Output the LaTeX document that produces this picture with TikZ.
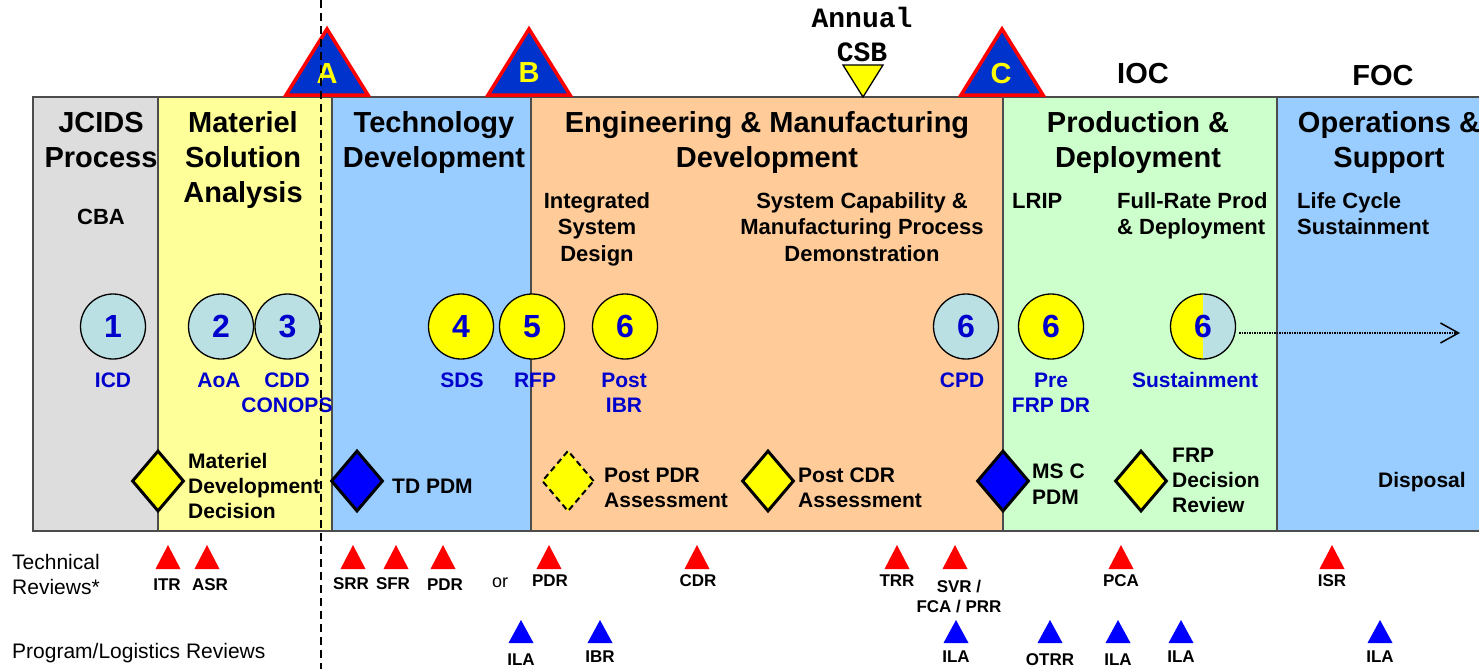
\documentclass[tikz,border=0pt]{standalone}
\usepackage{fontspec}
\setmainfont{Liberation Sans}
\newfontfamily\csbfont{Liberation Mono}
\usetikzlibrary{shapes.geometric,arrows.meta}

\definecolor{jcidsgray}{HTML}{DDDDDD}
\definecolor{msayellow}{HTML}{FFFF99}
\definecolor{phaseblue}{HTML}{99CCFF}
\definecolor{emdorange}{HTML}{FFCC99}
\definecolor{pdgreen}{HTML}{CCFFCC}
\definecolor{docblue}{HTML}{BBE0E3}
\definecolor{docyellow}{HTML}{FFFF00}
\definecolor{labelblue}{HTML}{0000CC}
\definecolor{msblue}{HTML}{0033CC}
\definecolor{pdmblue}{HTML}{0000FF}
\definecolor{revred}{HTML}{FF0000}
\definecolor{revblue}{HTML}{0000FF}

\newcommand{\fsz}[2]{\fontsize{#1}{#2}\selectfont}

% multi-line nodes are placed by the baseline of their last line
\begin{document}
\begin{tikzpicture}[x=1pt,y=-1pt,
  panel/.style={draw=black!70, line width=1.2pt},
  head/.style={font=\bfseries\fsz{29}{35}, align=center, anchor=base, inner sep=0pt},
  subhead/.style={font=\bfseries\fsz{22}{26.5}, align=center, anchor=base, inner sep=0pt},
  subleft/.style={subhead, align=left, anchor=base west},
  milestone/.style={fill=msblue, draw=revred, line width=3.5pt, line join=miter},
  msletter/.style={font=\bfseries\fsz{29}{35}, text=docyellow, anchor=base, inner sep=0pt},
  doc/.style={circle, draw=black, line width=1.3pt, minimum size=65pt, inner sep=0pt,
              font=\bfseries\fsz{32}{38}, text=labelblue},
  doclabel/.style={font=\bfseries\fsz{21}{25}, text=labelblue, align=center, anchor=base, inner sep=0pt},
  decision/.style={diamond, draw=black, line width=3pt, minimum width=52pt, minimum height=61pt, inner sep=0pt},
  dectext/.style={font=\bfseries\fsz{21}{25}, align=left, anchor=base west, inner sep=0pt},
  revlabel/.style={font=\bfseries\fsz{17}{20}, align=center, anchor=base, inner sep=0pt},
  rowlabel/.style={font=\fsz{21}{25}, align=left, anchor=base west, inner sep=0pt},
]
\path[use as bounding box] (0,0) rectangle (1479,669);
\clip (0,0) rectangle (1479,669);

% acquisition phases
\draw[panel, fill=jcidsgray] (33,97) rectangle (158,531);
\draw[panel, fill=msayellow] (158,97) rectangle (332,531);
\draw[panel, fill=phaseblue] (332,97) rectangle (531,531);
\draw[panel, fill=emdorange] (531,97) rectangle (1003,531);
\draw[panel, fill=pdgreen] (1003,97) rectangle (1277,531);
\draw[panel, fill=phaseblue] (1277,97) rectangle (1500,531);

% milestones A, B, C
\draw[milestone] (286,95) -- (327,29) -- (368,95) -- cycle;
\node[msletter] (msA) at (327,83) {A};
\draw[milestone] (488,95) -- (529,29) -- (570,95) -- cycle;
\node[msletter] (msB) at (529,82) {B};
\draw[milestone] (961,95) -- (1002,29) -- (1043,95) -- cycle;
\node[msletter] (msC) at (1001,83) {C};

% annual CSB marker
\draw[fill=docyellow, draw=black, line width=1.3pt] (843,65) -- (883,65) -- (863,97) -- cycle;
\node[font=\csbfont\bfseries\fsz{28}{34}, align=center, anchor=base, inner sep=0pt] (csb) at (862,62) {Annual\\CSB};

\node[head] (ioc) at (1143,83) {IOC};
\node[head] (foc) at (1383,85) {FOC};

% phase titles
\node[head] (jcids) at (101,167) {JCIDS\\Process};
\node[head] (msa) at (243,202) {Materiel\\Solution\\Analysis};
\node[head] (td) at (434,167) {Technology\\Development};
\node[head] (emd) at (767,167) {Engineering \& Manufacturing\\Development};
\node[head] (pd) at (1138,167) {Production \&\\Deployment};
\node[head] (os) at (1389,167) {Operations \&\\Support};

% sub-phases
\node[subhead] (cba) at (101,224) {CBA};
\node[subhead] (isd) at (597,261) {Integrated\\System\\Design};
\node[subhead] (scmpd) at (862,261) {System Capability \&\\Manufacturing Process\\Demonstration};
\node[subleft] (lrip) at (1012,208) {LRIP};
\node[subleft] (frpd) at (1117,234.5) {Full-Rate Prod\\\& Deployment};
\node[subleft] (lcs) at (1297,234.5) {Life Cycle\\Sustainment};

% documents
\node[doc, fill=docblue] (d1) at (113,326.5) {1};
\node[doc, fill=docblue] (d2) at (221,326.5) {2};
\node[doc, fill=docblue] (d3) at (287.5,326.5) {3};
\node[doc, fill=docyellow] (d4) at (461,326.5) {4};
\node[doc, fill=docyellow] (d5) at (532,326.5) {5};
\node[doc, fill=docyellow] (d6a) at (625,326.5) {6};
\node[doc, fill=docblue] (d6b) at (966,326.5) {6};
\node[doc, fill=docyellow] (d6c) at (1051,326.5) {6};
\fill[docyellow] (1203,326.5) ++(90:32.5) arc[start angle=90, end angle=270, radius=32.5] -- cycle;
\fill[docblue] (1203,326.5) ++(270:32.5) arc[start angle=270, end angle=450, radius=32.5] -- cycle;
\node[doc] (d6d) at (1203,326.5) {6};

\coordinate (lifeend) at (1460,333);
\draw[densely dotted, line width=1.5pt, shorten <=3pt,
      -{Straight Barb[length=18pt,width=20pt,line width=1.5pt]}] (d6d.east |- lifeend) -- (lifeend);

\node[doclabel] (icd) at (113,387) {ICD};
\node[doclabel] (aoa) at (219,387) {AoA};
\node[doclabel] (cdd) at (287,412) {CDD\\CONOPS};
\node[doclabel] (sds) at (462,387) {SDS};
\node[doclabel] (rfp) at (535,387) {RFP};
\node[doclabel] (postibr) at (624,412) {Post\\IBR};
\node[doclabel] (cpd) at (962,387) {CPD};
\node[doclabel] (prefrp) at (1051,412) {Pre\\FRP DR};
\node[doclabel] (sust) at (1195,387) {Sustainment};

% decision points
\node[decision, fill=docyellow] (mdd) at (158,481) {};
\node[decision, fill=pdmblue] (tdpdm) at (357,481) {};
\node[decision, fill=docyellow, line width=2pt, dash pattern=on 6pt off 4pt] (ppdr) at (568,481) {};
\node[decision, fill=docyellow] (pcdr) at (768,481) {};
\node[decision, fill=pdmblue] (mscpdm) at (1003,481) {};
\node[decision, fill=docyellow] (frpdr) at (1141,481) {};

\node[dectext] (mddtext) at (188,518) {Materiel\\Development\\Decision};
\node[dectext] (tdpdmtext) at (392,493) {TD PDM};
\node[dectext] (ppdrtext) at (604,507) {Post PDR\\Assessment};
\node[dectext] (pcdrtext) at (798,507) {Post CDR\\Assessment};
\node[dectext, font=\bfseries\fsz{21}{26}] (msctext) at (1032,504) {MS C\\PDM};
\node[dectext] (frptext) at (1172,512) {FRP\\Decision\\Review};
\node[dectext] (disposal) at (1378,487) {Disposal};

% review rows
\node[rowlabel] (techrev) at (12,594) {Technical\\Reviews*};
\node[rowlabel] (proglog) at (12,658) {Program/Logistics Reviews};

\foreach \tx/\lx/\by/\nm/\txt in {168/167/590/itr/ITR, 207/210/590/asr/ASR,
    353/351/589/srr/SRR, 396/393/589/sfr/SFR, 443/445/590/pdra/PDR,
    549/550/586/pdrb/PDR, 697/698/586/cdr/CDR, 897/897/586/trr/TRR,
    1121/1121/586/pca/PCA, 1332/1332/586/isr/ISR} {
  \fill[revred] (\tx-12.5,569) -- (\tx,545) -- (\tx+12.5,569) -- cycle;
  \node[revlabel] (\nm) at (\lx,\by) {\txt};
}
\fill[revred] (955-12.5,569) -- (955,545) -- (955+12.5,569) -- cycle;
\node[revlabel] (svr) at (959,612) {SVR /\\FCA / PRR};
\node[font=\fsz{18}{20}, anchor=base, inner sep=0pt] (orlabel) at (500,587) {or};

\foreach \tx/\by/\nm/\txt in {521/665/ilaa/ILA, 600/662/ibr/IBR, 956/662/ilab/ILA,
    1050/665/otrr/OTRR, 1118/665/ilac/ILA, 1181/662/ilad/ILA, 1380/662/ilae/ILA} {
  \fill[revblue] (\tx-12.5,643) -- (\tx,620) -- (\tx+12.5,643) -- cycle;
  \node[revlabel] (\nm) at (\tx,\by) {\txt};
}

% pre-systems acquisition boundary
\coordinate (cuttop) at (321,0);
\coordinate (cutbot) at (321,669);
\draw[line width=1.5pt, dash pattern=on 8pt off 5pt] (cuttop) -- (cutbot);
\end{tikzpicture}
\end{document}
